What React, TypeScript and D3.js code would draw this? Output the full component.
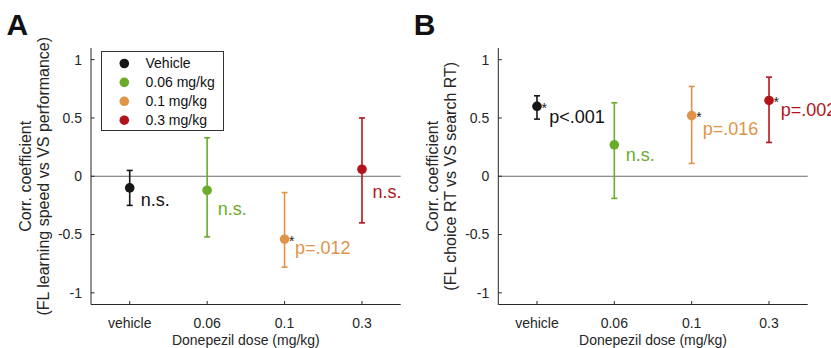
import React from "react";
import * as d3 from "d3";

const categories = ["vehicle", "0.06", "0.1", "0.3"];
const legendLabels = ["Vehicle", "0.06 mg/kg", "0.1 mg/kg", "0.3 mg/kg"];
const colors = ["#161616", "#6aab2c", "#e09448", "#b3141c"];
const yTicks = [-1, -0.5, 0, 0.5, 1];

const meanA = [-0.1, -0.12, -0.54, 0.06];
const upperA = [0.05, 0.33, -0.14, 0.5];
const lowerA = [-0.25, -0.52, -0.78, -0.4];
const labelA = ["n.s.", "n.s.", "p=.012", "n.s."];
const starA = [false, false, true, false];

const meanB = [0.6, 0.27, 0.52, 0.65];
const upperB = [0.69, 0.63, 0.77, 0.85];
const lowerB = [0.49, -0.19, 0.11, 0.29];
const labelB = ["p<.001", "n.s.", "p=.016", "p=.002"];
const starB = [true, false, true, true];

const FONT = "'Liberation Sans', Arial, Helvetica, sans-serif";
const TXT = "#262626";

type PanelProps = {
  left: number;
  right: number;
  letter: string;
  mean: number[];
  upper: number[];
  lower: number[];
  labels: string[];
  stars: boolean[];
  yLabel2: string;
  legend: boolean;
  labelOffsets: { dx: number; dy: number }[];
};

function Panel(p: PanelProps) {
  const top = 48;
  const bottom = 304.5;
  const y = d3.scaleLinear().domain([-1.1, 1.1]).range([bottom, top]);
  const x = d3.scaleLinear().domain([0.5, 4.5]).range([p.left, p.right]);
  const cx = (i: number) => x(i + 1);
  const mid = (p.left + p.right) / 2;
  return (
    <g fontFamily={FONT}>
      <text x={p.left - 84.5} y={35} fontSize={30} fontWeight="bold" fill="#111">
        {p.letter}
      </text>
      <line x1={p.left} x2={p.right} y1={y(0)} y2={y(0)} stroke="#6b6b6b" strokeWidth={1} />
      <line x1={p.left} x2={p.left} y1={top} y2={bottom} stroke="#262626" strokeWidth={1} />
      <line x1={p.left} x2={p.right} y1={bottom} y2={bottom} stroke="#262626" strokeWidth={1} />
      {yTicks.map((t) => (
        <g key={t}>
          <line x1={p.left} x2={p.left + 3.5} y1={y(t)} y2={y(t)} stroke="#262626" />
          <text x={p.left - 9} y={y(t)} dy="0.35em" textAnchor="end" fontSize={14} fill={TXT}>
            {t}
          </text>
        </g>
      ))}
      {categories.map((c, i) => (
        <g key={c}>
          <line x1={cx(i)} x2={cx(i)} y1={bottom} y2={bottom - 3.5} stroke="#262626" />
          <text x={cx(i)} y={323} dy="0.35em" textAnchor="middle" fontSize={14} fill={TXT}>
            {c}
          </text>
        </g>
      ))}
      <text x={mid} y={340} dy="0.35em" textAnchor="middle" fontSize={14} fill={TXT}>
        Donepezil dose (mg/kg)
      </text>
      <text
        transform={`translate(${p.left - 66},${y(0)}) rotate(-90)`}
        textAnchor="middle"
        dy="0.35em"
        fontSize={16}
        fill={TXT}
      >
        Corr. coefficient
      </text>
      <text
        transform={`translate(${p.left - 47.5},${y(0)}) rotate(-90)`}
        textAnchor="middle"
        dy="0.35em"
        fontSize={16}
        fill={TXT}
      >
        {p.yLabel2}
      </text>
      {p.mean.map((m, i) => (
        <g key={i} stroke={colors[i]} strokeWidth={1.6}>
          <line x1={cx(i)} x2={cx(i)} y1={y(p.upper[i])} y2={y(p.lower[i])} />
          <line x1={cx(i) - 3} x2={cx(i) + 3} y1={y(p.upper[i])} y2={y(p.upper[i])} />
          <line x1={cx(i) - 3} x2={cx(i) + 3} y1={y(p.lower[i])} y2={y(p.lower[i])} />
          <circle cx={cx(i)} cy={y(m)} r={4.8} fill={colors[i]} stroke="none" />
        </g>
      ))}
      {p.mean.map((m, i) => (
        <g key={"l" + i}>
          {p.stars[i] && (
            <text x={cx(i) + 4.5} y={y(m) + 6.5} fontSize={14} fill="#222">
              *
            </text>
          )}
          <text
            x={cx(i) + p.labelOffsets[i].dx}
            y={y(m) + p.labelOffsets[i].dy}
            dy="0.35em"
            fontSize={18}
            fill={i === 0 ? "#111" : colors[i]}
          >
            {p.labels[i]}
          </text>
        </g>
      ))}
      {p.legend && (
        <g>
          <rect x={101.5} y={51.5} width={122} height={79} fill="white" stroke="#333" strokeWidth={1} />
          {legendLabels.map((l, i) => (
            <g key={l}>
              <circle cx={124.3} cy={63.5 + i * 18.9} r={4.8} fill={colors[i]} />
              <text x={145.5} y={63.5 + i * 18.9} dy="0.35em" fontSize={14} fill="#111">
                {l}
              </text>
            </g>
          ))}
        </g>
      )}
    </g>
  );
}

export default function App() {
  return (
    <svg width={831} height={348} style={{ position: "absolute", left: 0, top: 0, background: "white" }}>
      <rect width={831} height={348} fill="white" />
      <Panel
        left={91}
        right={400.7}
        letter="A"
        mean={meanA}
        upper={upperA}
        lower={lowerA}
        labels={labelA}
        stars={starA}
        yLabel2="(FL learning speed vs VS performance)"
        legend={true}
        labelOffsets={[
          { dx: 11, dy: 12 },
          { dx: 10.5, dy: 18 },
          { dx: 10.5, dy: 8.5 },
          { dx: 10.5, dy: 22.5 },
        ]}
      />
      <Panel
        left={498.3}
        right={807.7}
        letter="B"
        mean={meanB}
        upper={upperB}
        lower={lowerB}
        labels={labelB}
        stars={starB}
        yLabel2="(FL choice RT vs VS search RT)"
        legend={false}
        labelOffsets={[
          { dx: 12.3, dy: 10.5 },
          { dx: 11.5, dy: 9.5 },
          { dx: 11, dy: 13.3 },
          { dx: 11.7, dy: 9.3 },
        ]}
      />
    </svg>
  );
}
